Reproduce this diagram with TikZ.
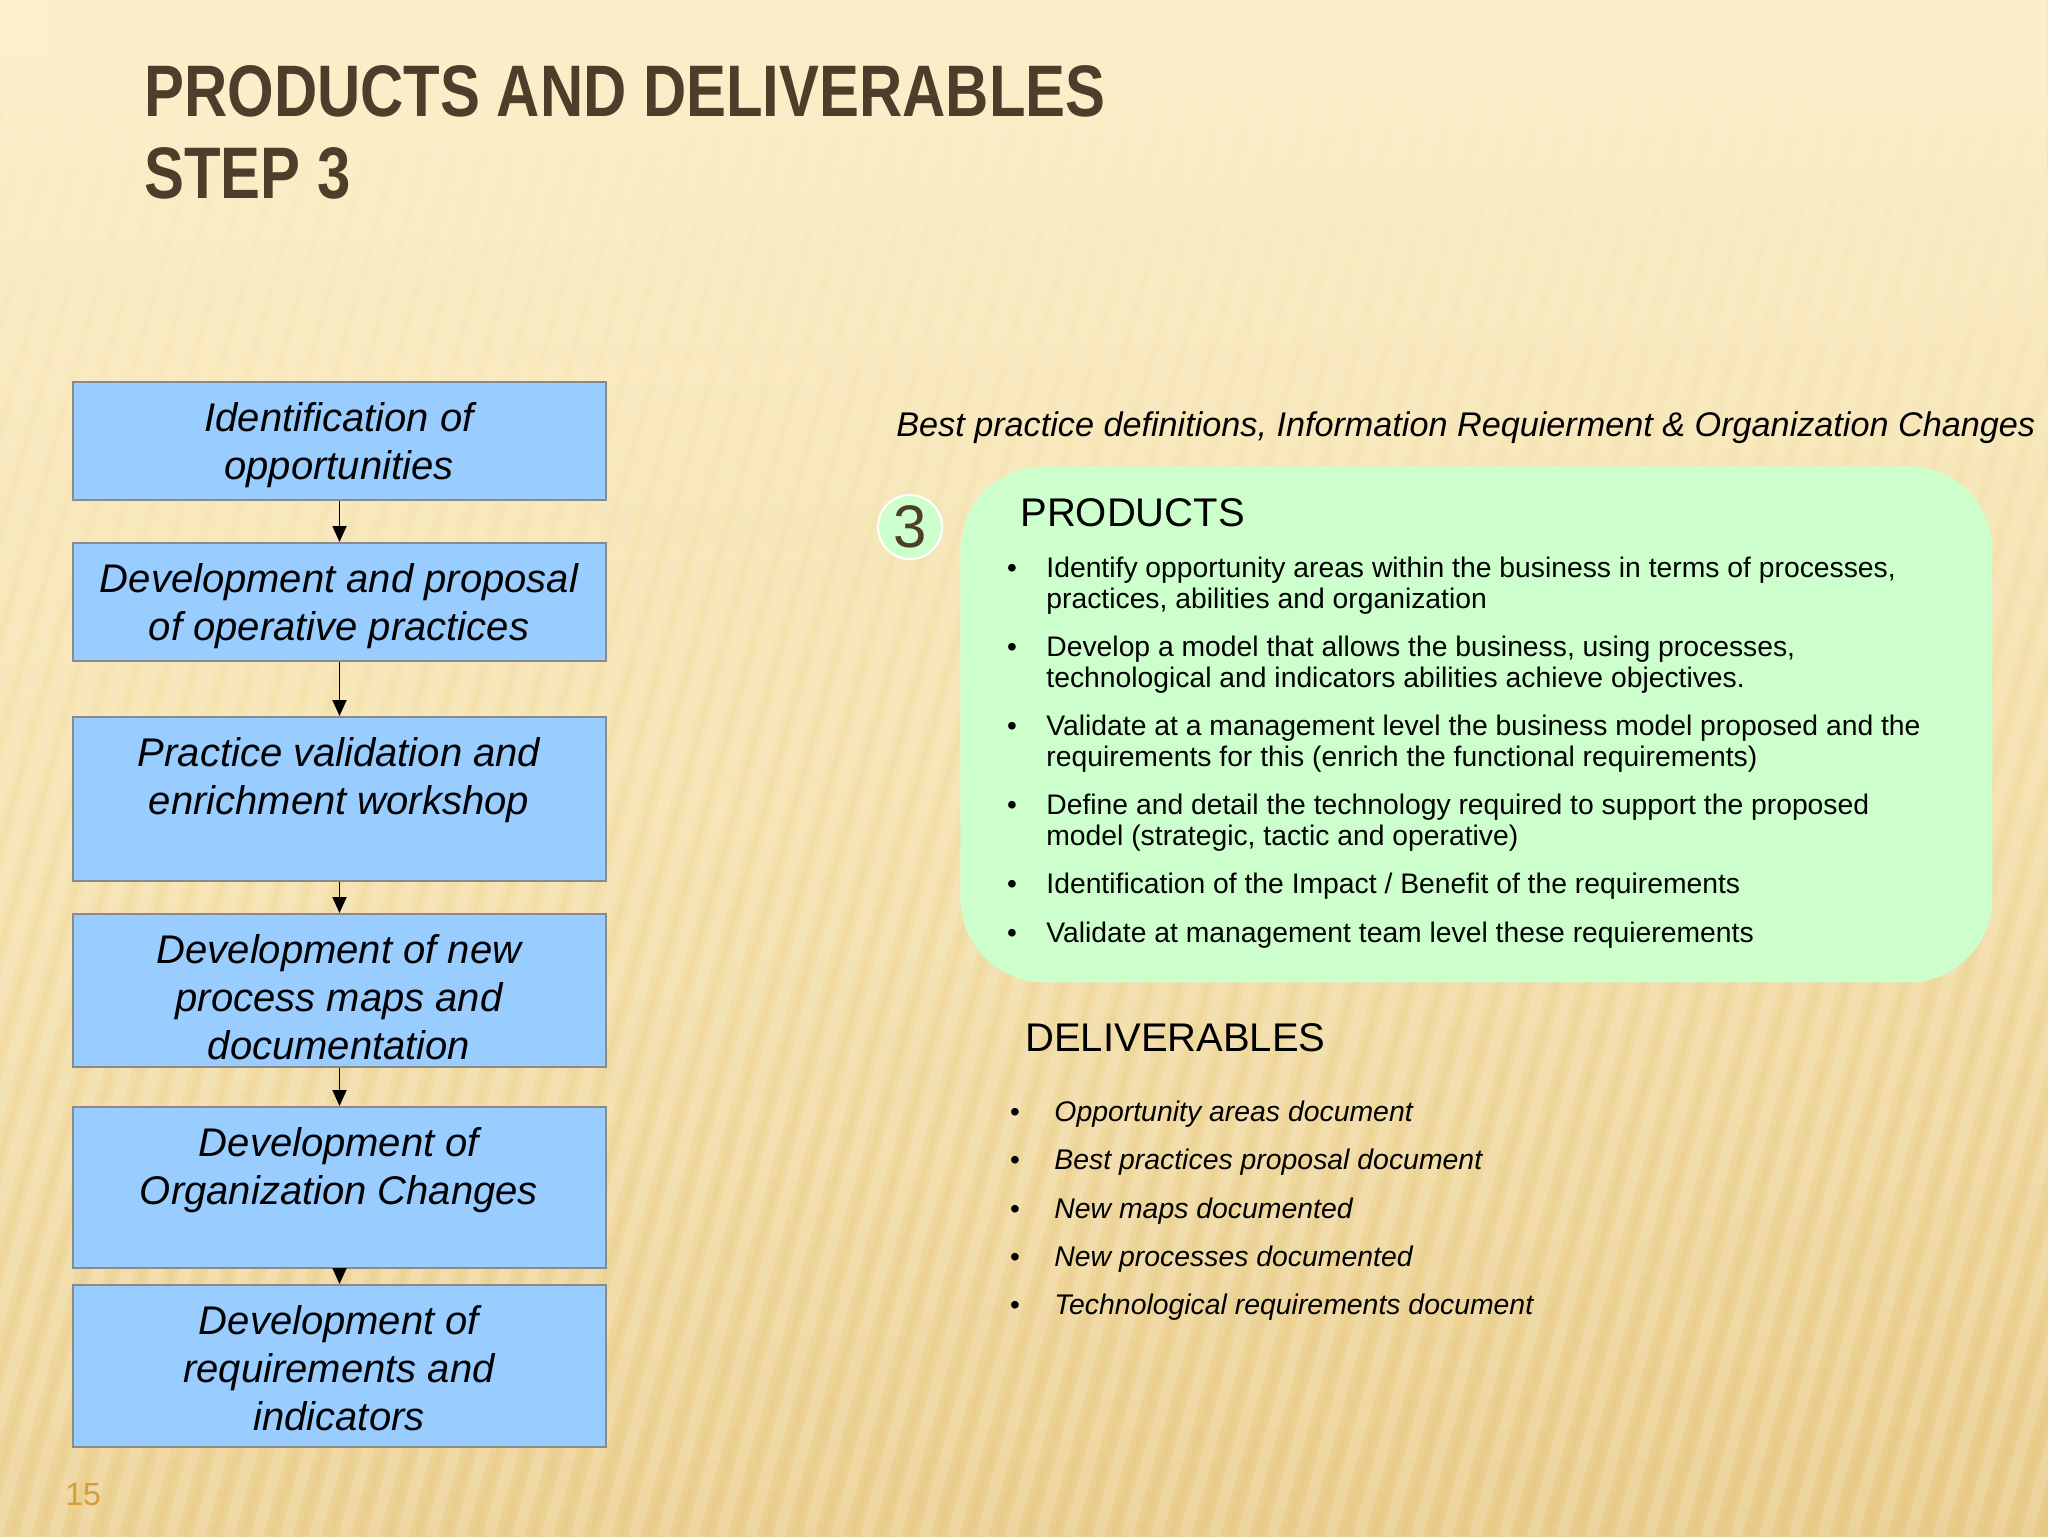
\documentclass[tikz,border=0pt]{standalone}
\usepackage{fontspec}
\setmainfont{Liberation Sans}
\usetikzlibrary{arrows.meta,fadings}
\definecolor{bluefill}{HTML}{99CCFF}
\definecolor{greenfill}{HTML}{CCFFCC}
\definecolor{titlebrown}{HTML}{4E3D2A}
\definecolor{pagegold}{HTML}{D49E3A}
\definecolor{boxborder}{HTML}{8A8A8A}
\definecolor{bgtop}{HTML}{FCF0CC}
\definecolor{bgmid}{HTML}{F8E6B3}
\definecolor{bgbot}{HTML}{EACD8B}
\definecolor{stripedark}{HTML}{D9B86E}
\tikzfading[name=fadetop, top color=transparent!0, middle color=transparent!30, bottom color=transparent!100]
\newcommand{\mlc}[1]{\begin{tabular}[t]{@{}c@{}}#1\end{tabular}}
\newcommand{\mll}[1]{\begin{tabular}[t]{@{}l@{}}#1\end{tabular}}
\begin{document}
\begin{tikzpicture}[x=0.5pt,y=-0.5pt,
 stepbox/.style={draw=boxborder, line width=1pt, fill=bluefill, minimum width=266.5pt, inner sep=0pt, anchor=north west},
 boxtext/.style={anchor=base, inner sep=0pt, font=\fontsize{20}{24}\selectfont\itshape},
 flow/.style={-{Triangle[length=8pt,width=7pt]}, line width=0.9pt, black},
 bul/.style={anchor=base, inner sep=0pt, font=\fontsize{14}{15.5}\selectfont},
 item/.style={anchor=base west, inner sep=0pt, font=\fontsize{14.15}{15.5}\selectfont},
 ditem/.style={anchor=base west, inner sep=0pt, font=\fontsize{14.2}{15.5}\selectfont\itshape},
 head/.style={anchor=base west, inner sep=0pt, font=\fontsize{20}{24}\selectfont},
 titletext/.style={anchor=base west, inner sep=0pt, text=titlebrown, font=\fontsize{36.5}{40}\selectfont\bfseries},
]
% background
\useasboundingbox (0,0) rectangle (2048,1536);
\shade[top color=bgtop, bottom color=bgbot, middle color=bgmid] (0,0) rectangle (2048,1536);
\shade[left color=bgtop, right color=bgbot!85!brown, opacity=0.15] (0,0) rectangle (2048,1536);
\begin{scope}
\clip (0,0) rectangle (2048,1536);
\foreach \i in {0,...,100} {
  \draw[white, opacity=0.16, line width=6pt] (\i*29-700,1536) -- (\i*29-300,100);
  \draw[stripedark, opacity=0.10, line width=3pt] (\i*29-685,1536) -- (\i*29-285,100);
}
\end{scope}
\shade[top color=bgtop, bottom color=bgbot!43!bgmid, path fading=fadetop] (0,0) rectangle (2048,1100);

% title
\node[titletext] (title1) at (144,117) {\scalebox{0.82}[1]{PRODUCTS AND DELIVERABLES}};
\node[titletext] (title2) at (144,198) {\scalebox{0.82}[1]{STEP 3}};

% left flow
\node[stepbox, minimum height=59pt] (b1) at (72,381) {};
\node[stepbox, minimum height=59pt] (b2) at (72,542) {};
\node[stepbox, minimum height=82pt] (b3) at (72,716) {};
\node[stepbox, minimum height=76.5pt] (b4) at (72,913) {};
\node[stepbox, minimum height=80.5pt] (b5) at (72,1106) {};
\node[stepbox, minimum height=81pt] (b6) at (72,1284) {};

\node[boxtext] (t1) at (339,431) {\mlc{Identification of\\opportunities}};
\node[boxtext] (t2) at (339,592) {\mlc{Development and proposal\\of operative practices}};
\node[boxtext] (t3) at (339,766) {\mlc{Practice validation and\\enrichment workshop}};
\node[boxtext] (t4) at (339,963) {\mlc{Development of new\\process maps and\\documentation}};
\node[boxtext] (t5) at (339,1156) {\mlc{Development of\\Organization Changes}};
\node[boxtext] (t6) at (339,1334) {\mlc{Development of\\requirements and\\indicators}};

\draw[flow] (b1.south) -- (b2.north);
\draw[flow] (b2.south) -- (b3.north);
\draw[flow] (b3.south) -- (b4.north);
\draw[flow] (b4.south) -- (b5.north);
\draw[flow] (b5.south) -- (b6.north);

% right side
\node[anchor=base west, inner sep=0pt, font=\fontsize{17.1}{20}\selectfont\itshape] (bp) at (896,436) {Best practice definitions, Information Requierment \& Organization Changes};

\node[fill=greenfill, rounded corners=42pt, minimum width=516pt, minimum height=258pt, anchor=north west, inner sep=0pt] (prodbox) at (960,466) {};
\node[circle, fill=greenfill, draw=white, line width=1pt, minimum size=32pt, inner sep=0pt, text=titlebrown, font=\fontsize{30}{32}\selectfont] (c3) at (910,527) {3};

\node[head] (prodhead) at (1020,526) {PRODUCTS};

\node[bul] (pb1) at (1012,577) {•};
\node[item] (p1) at (1046,577) {\mll{Identify opportunity areas within the business in terms of processes,\\practices, abilities and organization}};
\node[bul] (pb2) at (1012,656) {•};
\node[item] (p2) at (1046,656) {\mll{Develop a model that allows the business, using processes,\\technological and indicators abilities achieve objectives.}};
\node[bul] (pb3) at (1012,735) {•};
\node[item] (p3) at (1046,735) {\mll{Validate at a management level the business model proposed and the\\requirements for this (enrich the functional requirements)}};
\node[bul] (pb4) at (1012,814) {•};
\node[item] (p4) at (1046,814) {\mll{Define and detail the technology required to support the proposed\\model (strategic, tactic and operative)}};
\node[bul] (pb5) at (1012,893) {•};
\node[item] (p5) at (1046,893) {Identification of the Impact / Benefit of the requirements};
\node[bul] (pb6) at (1012,942) {•};
\node[item] (p6) at (1046,942) {Validate at management team level these requierements};

\node[head] (delhead) at (1025,1051) {DELIVERABLES};

\node[bul] (db1) at (1015,1121) {•};
\node[ditem] (d1) at (1054,1121) {Opportunity areas document};
\node[bul] (db2) at (1015,1169) {•};
\node[ditem] (d2) at (1054,1169) {Best practices proposal document};
\node[bul] (db3) at (1015,1218) {•};
\node[ditem] (d3) at (1054,1218) {New maps documented};
\node[bul] (db4) at (1015,1266) {•};
\node[ditem] (d4) at (1054,1266) {New processes documented};
\node[bul] (db5) at (1015,1314) {•};
\node[ditem] (d5) at (1054,1314) {Technological requirements document};

% page number
\node[anchor=base west, inner sep=0pt, text=pagegold, font=\fontsize{16}{18}\selectfont] (pagenum) at (65,1505) {15};
\end{tikzpicture}
\end{document}
